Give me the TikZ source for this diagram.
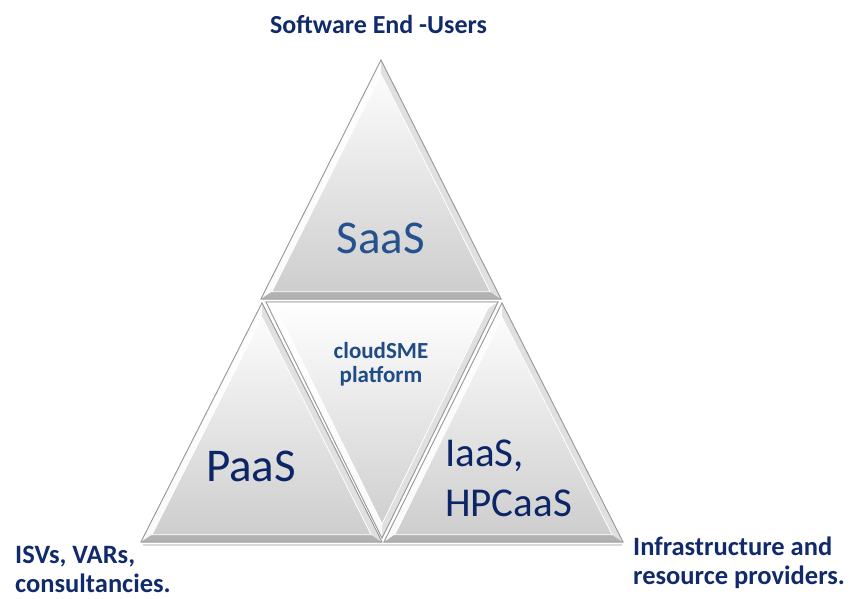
\documentclass[tikz,border=0pt]{standalone}
\usepackage{fontspec}
\setmainfont{Carlito}
\usetikzlibrary{calc}
\definecolor{navy}{HTML}{112A6B}
\definecolor{saasblue}{HTML}{25528E}
\definecolor{midblue}{HTML}{1F4B87}
\definecolor{deepblue}{HTML}{0B2566}
\definecolor{edgegray}{HTML}{9A9A9A}
\tikzset{
  face/.style={top color=white, bottom color=black!20, draw=edgegray, line width=0.8pt},
  facetlight/.style={fill=white, fill opacity=0.9},
  facetmid/.style={fill=black!12},
  facetdark/.style={fill=black!30},
  labeltext/.style={font=\bfseries\fontsize{26.5}{29}\selectfont, text=navy, align=left, inner sep=0pt},
  bigtext/.style={font=\fontsize{47}{50}\selectfont, inner sep=0pt},
  shadowline/.style={draw=black!25, line width=2pt, opacity=0.6}
}
% #1 name, #2 #3 #4 vertices, #5 #6 #7 facet styles for edges 2-3, 3-4, 4-2
\newcommand\bevtri[7]{%
  \coordinate (#1p) at #2;
  \coordinate (#1q) at #3;
  \coordinate (#1r) at #4;
  \coordinate (#1c) at ($0.3333*(#1p)+0.3333*(#1q)+0.3334*(#1r)$);
  \coordinate (#1pi) at ($(#1p)!0.09!(#1c)$);
  \coordinate (#1qi) at ($(#1q)!0.09!(#1c)$);
  \coordinate (#1ri) at ($(#1r)!0.09!(#1c)$);
  \path[face] (#1p) -- (#1q) -- (#1r) -- cycle;
  \path[#5] (#1p) -- (#1q) -- (#1qi) -- (#1pi) -- cycle;
  \path[#6] (#1q) -- (#1r) -- (#1ri) -- (#1qi) -- cycle;
  \path[#7] (#1r) -- (#1p) -- (#1pi) -- (#1ri) -- cycle;
  \draw[white, line width=0.8pt] (#1pi) -- (#1qi) -- (#1ri) -- cycle;
  \draw[edgegray, line width=0.8pt] (#1p) -- (#1q) -- (#1r) -- cycle;
}
\begin{document}
\begin{tikzpicture}[x=1pt,y=-1pt]
\useasboundingbox (0,0) rectangle (851,598);
% shadows under bottom edges
\draw[shadowline] (143,545) -- (622,545);
% top
\bevtri{top}{(381,60)}{(261,299)}{(501,299)}{facetlight}{facetdark}{facetmid}
% left
\bevtri{lft}{(262,303)}{(141,542)}{(382,542)}{facetlight}{facetdark}{facetmid}
% middle inverted
\bevtri{mid}{(266,302)}{(498,302)}{(382,538)}{facetlight}{facetmid}{facetlight}
% right
\bevtri{rgt}{(502,303)}{(384,542)}{(623,542)}{facetlight}{facetdark}{facetmid}
% texts
\node[bigtext, text=saasblue] (saas) at (381,238) {SaaS};
\node[bigtext, text=deepblue] (paas) at (251,466) {PaaS};
\node[font=\bfseries\fontsize{23}{24}\selectfont, text=midblue, align=center, inner sep=0pt, anchor=north] (cloud) at (381,342) {cloudSME\\platform};
\node[font=\fontsize{41}{50}\selectfont, text=deepblue, align=left, inner sep=0pt, anchor=north west] (iaas) at (445,440) {IaaS,\\HPCaaS};
\node[labeltext, anchor=base, font=\bfseries\fontsize{26}{29}\selectfont] (users) at (378.5,33) {Software End -Users};
\node[labeltext, anchor=north west] (isv) at (15,546) {ISVs, VARs,\\consultancies.};
\node[labeltext, anchor=north west] (infra) at (633,537) {Infrastructure and\\resource providers.};
\end{tikzpicture}
\end{document}
